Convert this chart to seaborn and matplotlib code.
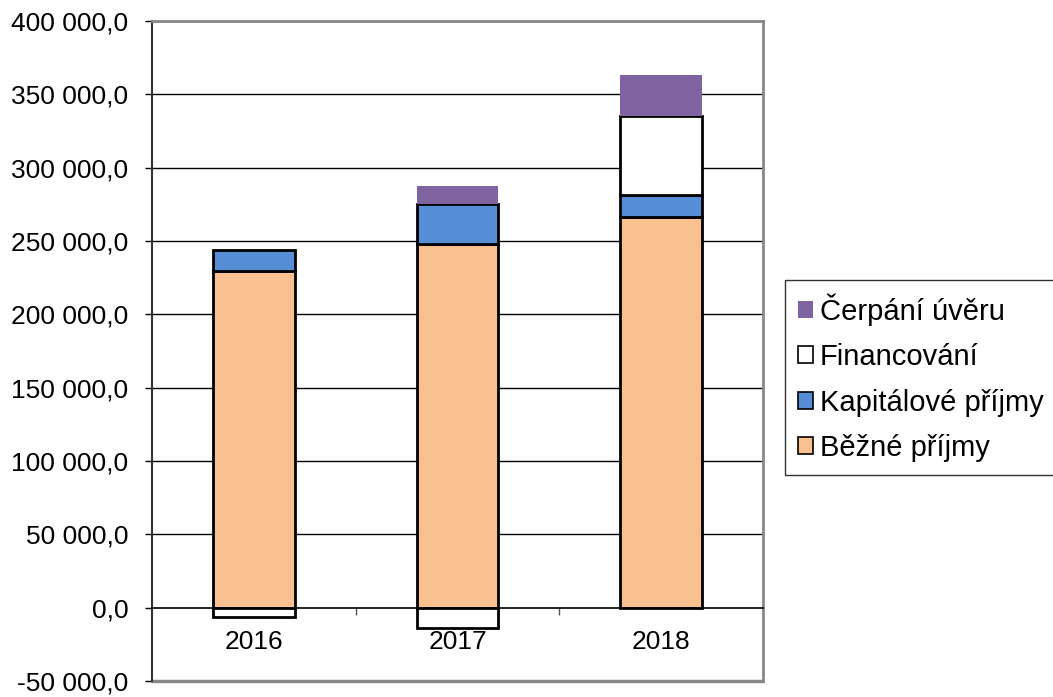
import numpy as np
import pandas as pd
import matplotlib
matplotlib.use("Agg")
import matplotlib.pyplot as plt
from matplotlib.patches import Patch
import seaborn as sns

# ---- data ----
roky = ["2016", "2017", "2018"]
bezne_prijmy = [229600, 248000, 266400]
kapitalove_prijmy = [14300, 27300, 15000]
financovani = [-6100, -13600, 53800]
cerpani_uveru = [0, 12200, 28000]

serie = [
    ("Běžné příjmy", bezne_prijmy, "#F9C090", "black", 2.0),
    ("Kapitálové příjmy", kapitalove_prijmy, "#558ED5", "black", 2.0),
    ("Financování", financovani, "white", "black", 2.0),
    ("Čerpání úvěru", cerpani_uveru, "#8064A2", "none", 0.0),
]

sns.set_theme(style="white")
plt.rcParams["font.family"] = ["Liberation Sans", "DejaVu Sans"]
plt.rcParams["text.color"] = "black"
plt.rcParams["xtick.color"] = "black"
plt.rcParams["ytick.color"] = "black"

fig = plt.figure(figsize=(10.53, 6.97), dpi=100)
ax = fig.add_axes([152 / 1053, 1 - 681 / 697, (763 - 152) / 1053, (681 - 21) / 697])

# stacking: positives pile up from 0, negatives go down from 0
pos = np.zeros(len(roky))
neg = np.zeros(len(roky))
for nazev, hodnoty, barva, hrana, lw in serie:
    h = np.array(hodnoty, dtype=float)
    spodek = np.where(h >= 0, pos, neg)
    df = pd.DataFrame({"rok": roky, "hodnota": h})
    sns.barplot(data=df, x="rok", y="hodnota", bottom=spodek, color=barva,
                edgecolor=hrana, linewidth=lw, width=0.4, saturation=1,
                errorbar=None, ax=ax, zorder=3)
    pos = np.where(h >= 0, pos + h, pos)
    neg = np.where(h < 0, neg + h, neg)

ax.set_xlim(-0.5, 2.5)
ax.set_ylim(-50000, 400000)
ax.set_yticks(np.arange(-50000, 400001, 50000))
ax.set_yticklabels([f"{v:,.1f}".replace(",", " ").replace(".", ",") for v in range(-50000, 400001, 50000)],
                   fontsize=19, color="black")
ax.tick_params(axis="y", direction="out", length=5, width=1, color="black", left=True, pad=12,
               labelcolor="black")
ax.set_xlabel("")
ax.set_ylabel("")

# gridlines
for v in range(50000, 400001, 50000):
    ax.axhline(v, color="black", lw=1, zorder=1)

# category axis crosses at zero
ax.spines["bottom"].set_position(("data", 0))
ax.spines["bottom"].set_color("black")
ax.spines["bottom"].set_linewidth(1.2)
ax.spines["bottom"].set_zorder(4)
ax.set_xticks([0, 1, 2])
ax.set_xticklabels(roky, fontsize=19, color="black")
ax.set_xticks([0.5, 1.5], minor=True)
ax.tick_params(axis="x", which="major", length=0, pad=16, labelcolor="black")
ax.tick_params(axis="x", which="minor", direction="out", length=5, width=1, color="#555555", bottom=True)

ax.spines["left"].set_color("#333333")
ax.spines["left"].set_linewidth(1.5)
for s in ["top", "right"]:
    ax.spines[s].set_color("#888888")
    ax.spines[s].set_linewidth(2)
ax.axhline(-50000, color="#888888", lw=2.5, zorder=2, clip_on=False)

# legend
handles = [
    Patch(facecolor="#8064A2", edgecolor="none", label="Čerpání úvěru"),
    Patch(facecolor="white", edgecolor="black", linewidth=1.2, label="Financování"),
    Patch(facecolor="#558ED5", edgecolor="black", linewidth=1.2, label="Kapitálové příjmy"),
    Patch(facecolor="#F9C090", edgecolor="black", linewidth=1.2, label="Běžné příjmy"),
]
leg = fig.legend(handles=handles, loc="upper left", bbox_to_anchor=(785 / 1053, 1 - 280 / 697),
                 fontsize=21, frameon=True, fancybox=False, handlelength=0.5, handleheight=0.5,
                 handletextpad=0.25, labelspacing=0.6, borderpad=0.45, borderaxespad=0)
leg.get_frame().set_edgecolor("black")
leg.get_frame().set_linewidth(1)
for t in leg.get_texts():
    t.set_color("black")

fig.savefig("out.png", dpi=100)
